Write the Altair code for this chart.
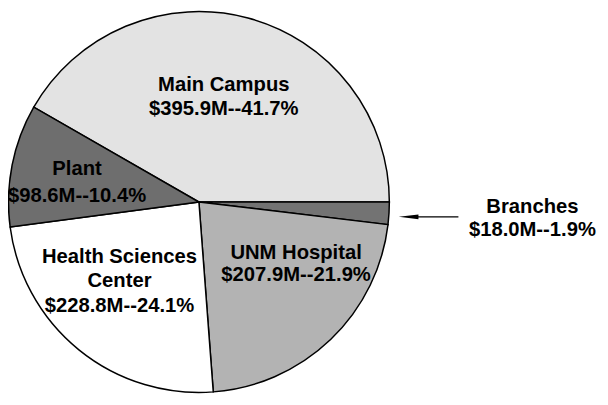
import math
import altair as alt
import pandas as pd

# ---- data ----
categories = ["Main Campus", "Branches", "UNM Hospital", "Health Sciences Center", "Plant"]
amounts = [395.9, 18.0, 207.9, 228.8, 98.6]      # $ millions
percents = [41.7, 1.9, 21.9, 24.1, 10.4]
name_lines = [["Main Campus"], ["Branches"], ["UNM Hospital"], ["Health Sciences", "Center"], ["Plant"]]

# ---- style / layout ----
colors = ["#e3e3e3", "#737373", "#b3b3b3", "#ffffff", "#6e6e6e"]
W, H = 600, 388
CX, CY, R = 193.5, 194, 193
FONT = "Liberation Sans"
FS = 20.5
# label block centre offsets from the pie centre (px) and line spacing
label_dx = [25.2, 338, 98.5, -80.5, -123.5]
label_dy = [-107.5, 15.5, 61.5, 79, -21]
label_lh = [24, 23, 23, 25, 27.5]

total = sum(amounts)
start = math.pi / 2 - 2 * math.pi * amounts[0] / total

df = pd.DataFrame({"category": categories, "amount": amounts, "order": list(range(len(categories)))})

rows = []
for i, cat in enumerate(categories):
    lines = name_lines[i] + [f"${amounts[i]:.1f}M--{percents[i]:.1f}%"]
    n = len(lines)
    for j, t in enumerate(lines):
        rows.append({"text": t, "dx": label_dx[i],
                     "dy": label_dy[i] + (j - (n - 1) / 2) * label_lh[i] + 0.358 * FS})
lab = pd.DataFrame(rows)

arcs = alt.Chart(df).mark_arc(radius=R, stroke="black", strokeWidth=1.5).encode(
    theta=alt.Theta("amount:Q", stack=True,
                    scale=alt.Scale(domain=[0, total], range=[start, start + 2 * math.pi])),
    order=alt.Order("order:Q"),
    color=alt.Color("category:N", scale=alt.Scale(domain=categories, range=colors), legend=None),
    x=alt.value(CX), y=alt.value(CY),
)

texts = alt.Chart(lab).mark_text(
    font=FONT, fontSize=FS, fontWeight="bold", color="black", align="center", baseline="alphabetic"
).transform_calculate(
    px=f"{CX} + datum.dx", py=f"{CY} + datum.dy"
).encode(
    x=alt.X("px:Q", scale=None, axis=None),
    y=alt.Y("py:Q", scale=None, axis=None),
    text="text:N",
)

arrow_y = CY + 15
tip_x = CX + R + 9.5
one = pd.DataFrame({"a": [0]})
shaft = alt.Chart(one).mark_rule(color="black", strokeWidth=1.2).encode(
    x=alt.value(tip_x + 10), x2=alt.value(CX + R + 70), y=alt.value(arrow_y)
)
head = alt.Chart(one).mark_point(
    shape="M-1,0L1,-0.24L1,0.24Z", filled=True, color="black", opacity=1, size=400
).encode(x=alt.value(tip_x + 10), y=alt.value(arrow_y))

chart = alt.layer(arcs, texts, shaft, head).properties(
    width=W, height=H, autosize=alt.AutoSizeParams(type="none"), padding=0
).configure_view(stroke=None)

chart.save("out.html", embed_options={"renderer": "svg", "actions": False})
